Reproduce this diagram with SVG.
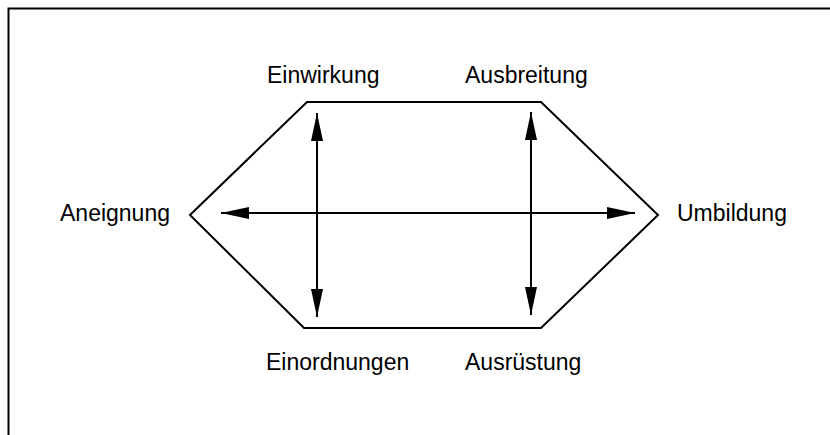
<svg xmlns="http://www.w3.org/2000/svg" width="830" height="435" viewBox="0 0 830 435">
<style>
text{font-family:"Liberation Sans",Arial,sans-serif;font-size:23px;fill:#000}
.ln{stroke:#000;stroke-width:2;fill:none}
</style>
<defs>
<marker id="ah" viewBox="0 0 28 12" refX="28" refY="6" markerWidth="28" markerHeight="12" markerUnits="userSpaceOnUse" orient="auto-start-reverse">
<path d="M0,0 L28,6 L0,12 Z" fill="#000"/>
</marker>
</defs>
<rect x="0" y="0" width="830" height="435" fill="#fff"/>
<path class="ln" d="M8.5,440 L8.5,8.5 L840,8.5"/>
<g id="hexagon"><path class="ln" d="M190,215 L307,102 L541,102 L658,215 L541,328 L304,328 Z"/></g>
<g id="connectors">
<line class="ln" x1="221" y1="213" x2="635" y2="213" marker-start="url(#ah)" marker-end="url(#ah)"/>
<line class="ln" x1="317" y1="113" x2="317" y2="317" marker-start="url(#ah)" marker-end="url(#ah)"/>
<line class="ln" x1="531" y1="112" x2="531" y2="315" marker-start="url(#ah)" marker-end="url(#ah)"/>
</g>
<g id="einwirkung"><text x="267" y="83">Einwirkung</text></g>
<g id="ausbreitung"><text x="465" y="83">Ausbreitung</text></g>
<g id="aneignung"><text x="60" y="221">Aneignung</text></g>
<g id="umbildung"><text x="677" y="221">Umbildung</text></g>
<g id="einordnungen"><text x="266" y="370">Einordnungen</text></g>
<g id="ausruestung"><text x="465" y="370">Ausrüstung</text></g>
</svg>
